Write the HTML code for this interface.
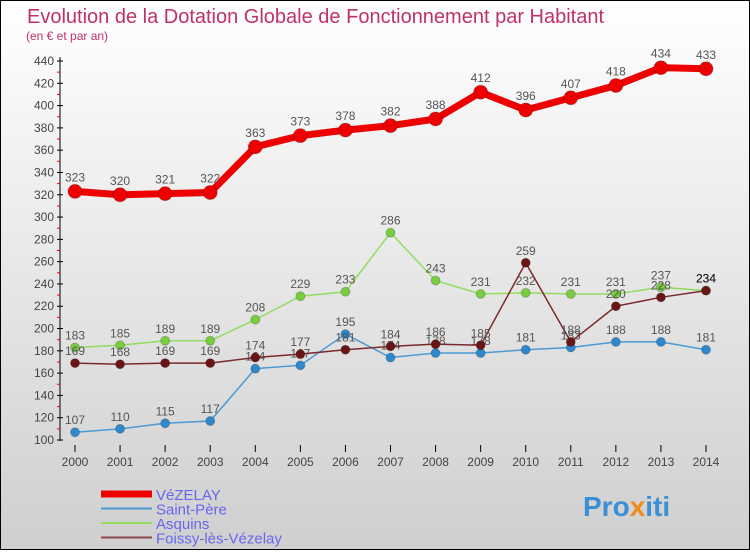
<!DOCTYPE html>
<html><head><meta charset="utf-8"><style>
html,body{margin:0;padding:0}
body{width:750px;height:550px;overflow:hidden;font-family:"Liberation Sans",sans-serif}
#wrap{position:relative;width:748px;height:548px;border:1px solid #000;background:linear-gradient(#ffffff,#cfcfcf)}
</style></head><body>
<div id="wrap">
<svg id="chart" width="748" height="548" xmlns="http://www.w3.org/2000/svg">
<text x="26" y="22" font-size="20" fill="#c0306a">Evolution de la Dotation Globale de Fonctionnement par Habitant</text>
<text x="25" y="39" font-size="12" fill="#c0306a">(en € et par an)</text>
<g id="axes"></g><g id="series"></g><g id="legend"></g>
<text x="582" y="515" font-size="28" font-weight="bold" fill="#3a8fd6">Pro<tspan fill="#f08a1a">x</tspan>iti</text>
</svg>
</div>
<script>
const years=[2000,2001,2002,2003,2004,2005,2006,2007,2008,2009,2010,2011,2012,2013,2014];
const yTicks=[100,120,140,160,180,200,220,240,260,280,300,320,340,360,380,400,420,440];
const vezelay=[323,320,321,322,363,373,378,382,388,412,396,407,418,434,433];
const saintPere=[107,110,115,117,164,167,195,174,178,178,181,183,188,188,181];
const asquins=[183,185,189,189,208,229,233,286,243,231,232,231,231,237,234];
const foissy=[169,168,169,169,174,177,181,184,186,185,259,188,220,228,234];
const names=["VéZELAY","Saint-Père","Asquins","Foissy-lès-Vézelay"];
const NS="http://www.w3.org/2000/svg";
function xs(i){return 74+i*(705-74)/(years.length-1);}
function ys(v){return 439-(v-100)*(439-60)/340;}
function mk(t,a,p){const e=document.createElementNS(NS,t);for(const k in a)e.setAttribute(k,a[k]);p.appendChild(e);return e;}
const ax=document.getElementById('axes');
const axl=mk('line',{x1:59,y1:56,x2:59,y2:440,stroke:'#000','stroke-width':1},ax);


yTicks.forEach(v=>{
 const y=ys(v);
 mk('line',{x1:56,y1:y,x2:62,y2:y,stroke:'#000'},ax);
 if(v>100) mk('line',{x1:56,y1:y+11.15,x2:59,y2:y+11.15,stroke:'#e00'},ax);
 const t=mk('text',{x:53,y:y+4,'font-size':12,'text-anchor':'end',fill:'#444'},ax);
 t.textContent=v;
 
 
});
years.forEach((yr,i)=>{
 const x=xs(i);
 mk('line',{x1:x,y1:444,x2:x,y2:451,stroke:'#000'},ax);
 const t=mk('text',{x:x,y:465,'font-size':12,'text-anchor':'middle',fill:'#444'},ax);
 t.textContent=yr;
 
 
});
const sg=document.getElementById('series');
const cfg=[[vezelay,'#ee0000',7,7,'#ee0000'],[saintPere,'#4a9ad4',1.5,4.5,'#3088cc'],[asquins,'#90dd60',1.5,4.5,'#7acc40'],[foissy,'#7a2a2a',1.5,4.5,'#6a1515']];
cfg.forEach((c,si)=>{
 const [data,col,w,r,fill]=c;
 const pts=data.map((v,i)=>xs(i)+','+ys(v)).join(' ');
 const pl=mk('polyline',{points:pts,fill:'none',stroke:col,'stroke-width':w},sg);
 
 
 data.forEach((v,i)=>{
  const ci=mk('circle',{cx:xs(i),cy:ys(v),r:r,fill:fill,stroke:'rgba(0,0,0,0.2)'},sg);
  
  
  const t=mk('text',{x:xs(i),y:ys(v)-(si==0?10:8),'font-size':12,'text-anchor':'middle',fill:(si==3&&i==14)?'#111':'#555'},sg);
  t.textContent=v;
  
  
 });
});
const lg=document.getElementById('legend');
const lcols=[['#ee0000',7],['#4a9ad4',2],['#90dd60',2],['#8a4a4a',2]];
names.forEach((n,i)=>{
 const y=493+i*14.5;
 mk('line',{x1:100,y1:y,x2:151,y2:y,stroke:lcols[i][0],'stroke-width':lcols[i][1]},lg);
 const t=mk('text',{x:155,y:y+6,'font-size':15,fill:'#6666ee'},lg);
 t.textContent=n;
 
 
});
</script>
</body></html>
